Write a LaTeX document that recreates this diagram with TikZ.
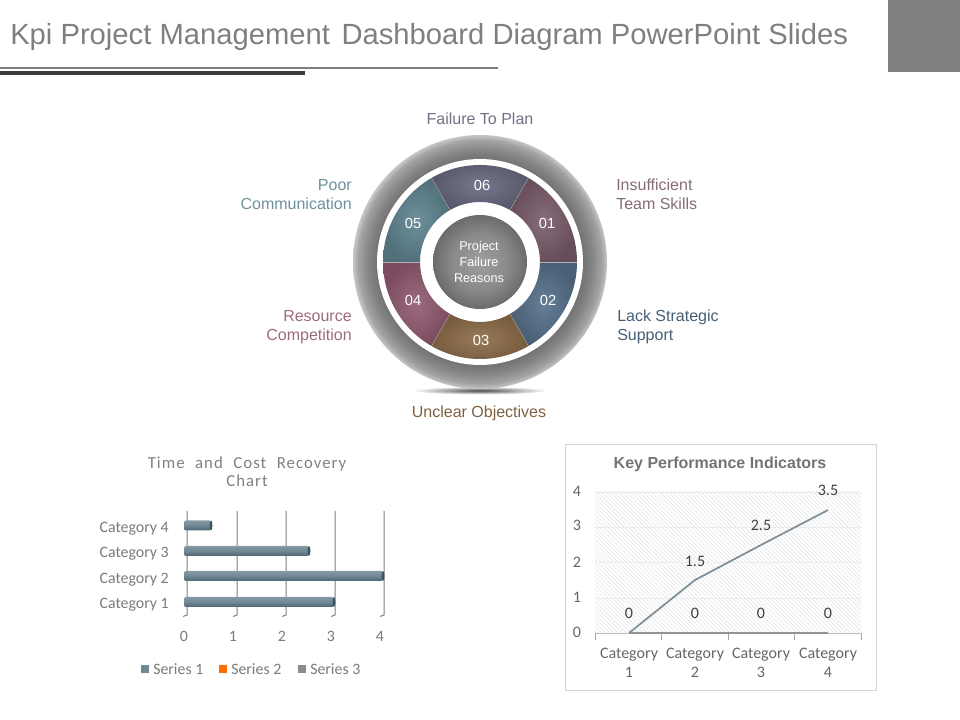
\documentclass[tikz,border=0pt]{standalone}
\usepackage{fontspec}
\setmainfont{Liberation Sans}
\newfontfamily\chartfont{Carlito}
\newfontfamily\spacedfont[LetterSpace=6,WordSpace=2.2]{Carlito}
\usetikzlibrary{patterns,patterns.meta}
\definecolor{headgray}{HTML}{7F7F7F}
\definecolor{headdark}{HTML}{3B3B3B}
\definecolor{segone}{HTML}{7A5C6A}
\definecolor{segtwo}{HTML}{55708A}
\definecolor{segthree}{HTML}{8C6C48}
\definecolor{segfour}{HTML}{915A70}
\definecolor{segfive}{HTML}{5F8490}
\definecolor{segsix}{HTML}{686880}
\definecolor{barblue}{HTML}{6F8894}
\definecolor{barend}{HTML}{3D5563}
\definecolor{linegray}{HTML}{7D8F99}
\definecolor{chartgray}{HTML}{7B7B7B}
\pgfdeclareradialshading{ringshade}{\pgfpoint{0bp}{0bp}}{%
  color(0bp)=(black!54); color(20bp)=(black!56); color(22bp)=(black!48);
  color(24bp)=(black!36); color(25bp)=(black!22); color(50bp)=(black!22)}
\pgfdeclareradialshading{coreshade}{\pgfpoint{0bp}{0bp}}{%
  color(0bp)=(black!38); color(15bp)=(black!46); color(25bp)=(black!58); color(50bp)=(black!58)}
\tikzset{
  pagetext/.style={font=\fontsize{12}{14.25}\selectfont,align=center},
  charttext/.style={font=\chartfont\fontsize{11.9}{14}\selectfont,text=chartgray},
  linetext/.style={font=\chartfont\fontsize{12}{14.2}\selectfont,text=black!60}
}
\begin{document}
\begin{tikzpicture}[x=0.75pt,y=0.75pt]
  \useasboundingbox (0,0) rectangle (960,720);
  % Header
  \fill[headgray] (888,720) rectangle (960,648);
  \draw[headgray,line width=1.1pt] (0,652) -- (498,652);
  \draw[headdark,line width=3pt] (0,647) -- (305,647);
  \node[anchor=west,inner sep=0pt,text=headgray,font=\fontsize{21.9}{26}\selectfont] (pagetitle) at (10,683) {Kpi Project Management\hspace{0.12em} Dashboard Diagram PowerPoint Slides};

  % Ring
  \shade[inner color=black!70,outer color=white] (480,329.5) ellipse (68 and 4);
  \begin{scope}[shift={(480,458)}]
    \shade[shading=ringshade] (0,0) circle (127);
    \fill[white] (0,0) circle (103);
    \foreach \a/\c in {0/segone,-60/segtwo,240/segthree,180/segfour,120/segfive,60/segsix}
      \shade[inner color=\c!90!white,outer color=\c!85!black]
        (\a:60) -- (\a:97) arc[start angle=\a,end angle=\a+60,radius=97] -- (\a+60:60)
        arc[start angle=\a+60,end angle=\a,radius=60] -- cycle;
    \foreach \a in {0,60,...,300}
      \draw[black!30,very thin] (\a:60) -- (\a:97);
    \shade[shading=coreshade] (0,0) circle (47);
  \end{scope}
  \foreach \x/\y/\t in {547/497/01,548/420/02,481/380/03,413/420/04,413/497/05,482/535/06}
    \node[text=white,font=\fontsize{11}{12}\selectfont,inner sep=0pt] (num\t) at (\x,\y) {\t};
  \node[text=white,font=\fontsize{9.5}{11.8}\selectfont,align=center,inner sep=0pt] (core) at (479,458) {Project\\Failure\\Reasons};

  % Labels round the ring
  \node[pagetext,text=black!15!segsix!85!white,inner sep=0pt] (plan) at (480,601.5) {Failure To Plan};
  \node[pagetext,text=segone!90!white,align=left,anchor=west,inner sep=0pt] (skills) at (616,526) {Insufficient\\Team Skills};
  \node[pagetext,text=black!15!segtwo,align=left,anchor=west,inner sep=0pt] (support) at (617,393) {Lack Strategic\\Support};
  \node[pagetext,text=segthree!90!black,inner sep=0pt] (objectives) at (479,306.5) {Unclear Objectives};
  \node[pagetext,text=segfour!90!white,align=right,anchor=east,inner sep=0pt] (resource) at (352,393) {Resource\\Competition};
  \node[pagetext,text=segfive!90!white,align=right,anchor=east,inner sep=0pt] (poor) at (352,525.5) {Poor\\Communication};

  % Bar chart
  \node[font=\spacedfont\fontsize{12.6}{13.5}\selectfont,text=black!50,align=center,inner sep=0pt] (bartitle) at (247,248) {Time and Cost Recovery\\Chart};
  \foreach \x in {187,237,286,335,384}
    \draw[black!50,line width=0.75pt] (\x,209) -- (\x,105) -- ++(-4,-1.5);
  \foreach \e/\y in {211/194.5,309/169,383/144,334/118}{
    \shade[top color=barblue!85!white,bottom color=barend!70!barblue,middle color=barblue,rounded corners=1.5pt] (184,\y-5) rectangle (\e,\y+5);
    \fill[barend] (\e,\y) ellipse (1.4 and 5);
  }
  \foreach \y/\t in {193/4,168/3,142/2,117/1}
    \node[charttext,anchor=east,inner sep=0pt] (barcat\t) at (169,\y-1.5) {Category \t};
  \foreach \x/\t in {184/0,233/1,282/2,331/3,380/4}
    \node[charttext,inner sep=0pt] (barnum\t) at (\x,84) {\t};
  \foreach \x/\c/\t in {141/barblue/1,219/orange!85!red/2,298/black!45/3}{
    \fill[\c] (\x,47) rectangle (\x+8,55);
    \node[charttext,anchor=west,inner sep=0pt] (series\t) at (\x+12,51) {Series \t};
  }

  % Line chart
  \draw[black!17,line width=0.75pt] (565,29) rectangle (876,275);
  \node[font=\bfseries\fontsize{12}{14}\selectfont,text=black!55,inner sep=0pt] (linetitle) at (720,256) {Key Performance Indicators};
  \fill[pattern={Lines[angle=-45,distance=2.2pt,line width=0.3pt]},pattern color=black!14] (595,87) rectangle (861,228);
  \foreach \y in {228,193,158,122}
    \draw[black!8,line width=0.5pt] (595,\y) -- (861,\y);
  \draw[black!25,line width=0.5pt] (595,87) -- (861,87);
  \foreach \x in {595,661,728,794,861}
    \draw[black!35,line width=0.5pt] (\x,87) -- (\x,80);
  \draw[chartgray!80!white,line width=1.8pt] (629,87) -- (828,87);
  \draw[linegray,line width=1.3pt] (629,87) -- (695,140) -- (761,175) -- (828,210);
  \foreach \y/\t in {88/0,123/1,158/2,195/3,229/4}
    \node[linetext,inner sep=0pt] (linenum\t) at (577,\y) {\t};
  \foreach \x/\y/\t/\n in {629/107/0/a,695/107/0/b,761/107/0/c,828/107/0/d,695/159/1.5/e,761/195/2.5/f,828/230/3.5/g}
    \node[linetext,text=black!75,inner sep=0pt] (value\n) at (\x,\y) {\t};
  \foreach \x/\t in {629/1,695/2,761/3,828/4}
    \node[linetext,align=center,inner sep=0pt] (linecat\t) at (\x,57) {Category\\\t};
\end{tikzpicture}
\end{document}
